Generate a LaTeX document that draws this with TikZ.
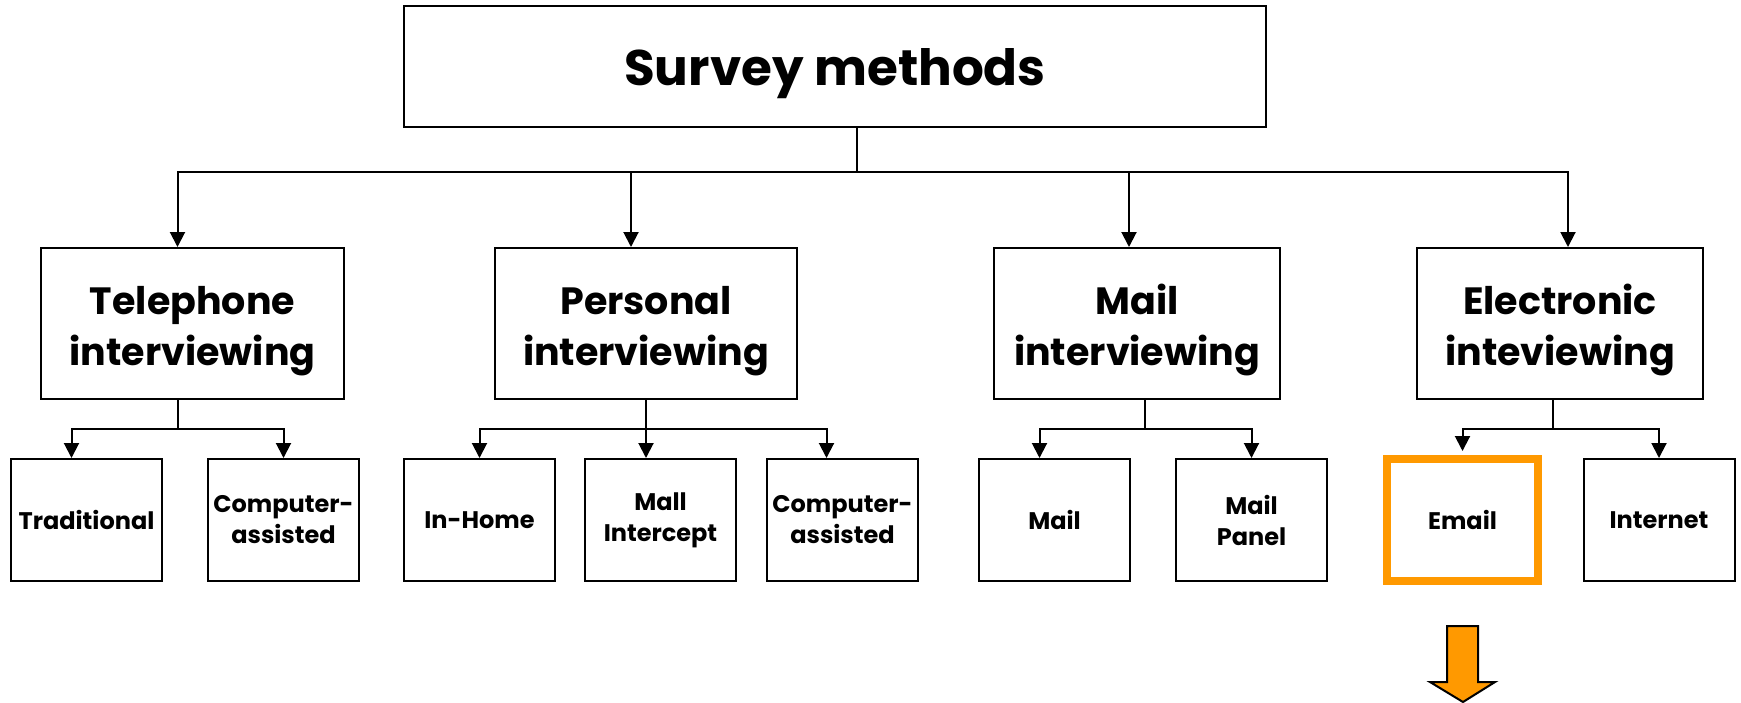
\documentclass[tikz,border=0pt]{standalone}
\usepackage{fontspec}
\setmainfont{Poppins}
\usetikzlibrary{arrows.meta}
\definecolor{cEmail}{RGB}{255,153,0}

\begin{document}
\begin{tikzpicture}[
  x=1pt, y=-1pt,
  %% connector with a filled head
  arr/.style={
    -{Triangle[length=15pt,width=15pt]}, line width=2pt
  },
  %% plain bus line
  wire/.style={line width=2pt},
  topbox/.style={
    draw, line width=2pt, minimum width=862pt, minimum height=121pt,
    text height=37pt, text depth=0pt,
    font=\fontsize{50}{60}\selectfont\bfseries
  },
  methbox/.style={
    draw, line width=2pt, minimum height=151pt, align=center,
    text height=90pt, text depth=7pt,
    font=\fontsize{38}{51}\selectfont\bfseries
  },
  leafbox/.style={
    draw, line width=2pt, minimum width=151pt, minimum height=122pt,
    align=center, font=\fontsize{24}{31}\selectfont\bfseries
  },
]

\useasboundingbox (0,0) rectangle (1741,702);

%% ── Top ──────────────────────────────────────────────────────────────────────
\node[topbox] (survey) at (835,66.5) {Survey methods};

%% ── Methods ──────────────────────────────────────────────────────────────────
\node[methbox, minimum width=303pt] (tel)  at (192.5,323.5) {Telephone\\interviewing};
\node[methbox, minimum width=302pt] (pers) at (646,323.5)   {Personal\\interviewing};
\node[methbox, minimum width=286pt] (mail) at (1137,323.5)  {Mail\\interviewing};
\node[methbox, minimum width=286pt] (elec) at (1560,323.5)  {Electronic\\inteviewing};

%% ── Leaves ───────────────────────────────────────────────────────────────────
\node[leafbox] (trad)   at (86.5,520)  {Traditional};
\node[leafbox] (telca)  at (283.5,520) {Computer-\\assisted};
\node[leafbox] (home)   at (479.5,520) {In-Home};
\node[leafbox] (mall)   at (660.5,520) {Mall\\Intercept};
\node[leafbox] (persca) at (842.5,520) {Computer-\\assisted};
\node[leafbox] (post)   at (1054.5,520) {Mail};
\node[leafbox] (panel)  at (1251.5,520) {Mail\\Panel};
\node[leafbox, draw=cEmail, line width=8pt] (email) at (1462.5,520) {Email};
\node[leafbox] (inet)   at (1659,520)  {Internet};

%% ── Top bus ──────────────────────────────────────────────────────────────────
\coordinate (busTop) at (857,172);
\draw[wire] (survey.south -| busTop) -- (busTop);
\draw[arr] (busTop) -| ([xshift=-15pt]tel.north);
\draw[arr] (busTop) -| ([xshift=-15pt]pers.north);
\draw[arr] (busTop) -| ([xshift=-8pt]mail.north);
\draw[arr] (busTop) -| ([xshift=8pt]elec.north);

%% ── Telephone bus ────────────────────────────────────────────────────────────
\coordinate (busTel) at (178,429);
\draw[wire] (tel.south -| busTel) -- (busTel);
\draw[arr] (busTel) -| ([xshift=-15pt]trad.north);
\draw[arr] (busTel) -| (telca.north);

%% ── Personal bus ─────────────────────────────────────────────────────────────
\coordinate (busPers) at (646,429);
\draw[wire] (pers.south -| busPers) -- (busPers);
\draw[arr] (busPers) -| (home.north);
\draw[arr] (busPers) -- ([xshift=-14.5pt]mall.north);
\draw[arr] (busPers) -| ([xshift=-16pt]persca.north);

%% ── Mail bus ─────────────────────────────────────────────────────────────────
\coordinate (busMail) at (1145,429);
\draw[wire] (mail.south -| busMail) -- (busMail);
\draw[arr] (busMail) -| ([xshift=-15pt]post.north);
\draw[arr] (busMail) -| (panel.north);

%% ── Electronic bus ───────────────────────────────────────────────────────────
\coordinate (busElec) at (1553,429);
\draw[wire] (elec.south -| busElec) -- (busElec);
\draw[arr] (busElec) -| ([yshift=4pt]email.north);
\draw[arr] (busElec) -| (inet.north);

%% ── Down arrow under Email ───────────────────────────────────────────────────
\draw[fill=cEmail, line width=2pt, line join=miter]
  (1447,626) -- (1478,626) -- (1478,682) -- (1495,682)
  -- (1463,702) -- (1430,682) -- (1447,682) -- cycle;

\end{tikzpicture}
\end{document}
